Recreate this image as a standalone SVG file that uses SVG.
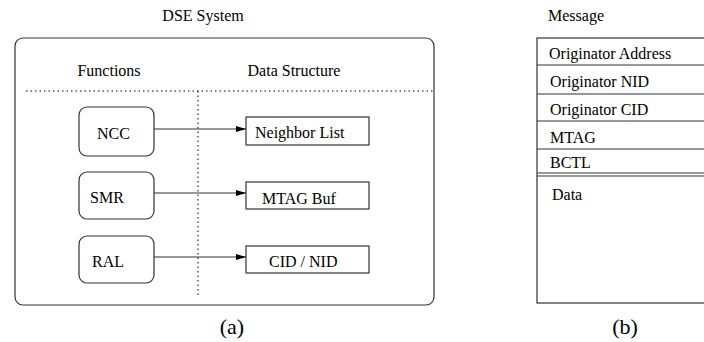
<svg xmlns="http://www.w3.org/2000/svg" width="704" height="342" viewBox="0 0 704 342">
<style>
text{font-family:"Liberation Serif","Times New Roman",serif;font-size:16px;fill:#000}
.big{font-size:22px}
.box{fill:#fff;stroke:#333;stroke-width:1.2}
.dot{stroke:#000;stroke-width:1;stroke-dasharray:1.5 3;fill:none}
.ln{stroke:#333;stroke-width:1.2;fill:none}
.arr{stroke:#333;stroke-width:1.2;fill:none;marker-end:url(#ah)}
</style>
<defs>
<marker id="ah" viewBox="0 0 10 6" refX="10" refY="3" markerWidth="10" markerHeight="6" markerUnits="userSpaceOnUse" orient="auto">
<path d="M0,0 L10,3 L0,6 Z" fill="#000"/>
</marker>
</defs>
<g id="dse-system">
<text x="203" y="21" text-anchor="middle">DSE System</text>
<rect class="box" x="15" y="38" width="419" height="267" rx="8"/>
<text x="109" y="76" text-anchor="middle">Functions</text>
<text x="294" y="76" text-anchor="middle">Data Structure</text>
<line class="dot" x1="26" y1="91" x2="433" y2="91"/>
<line class="dot" x1="198" y1="91" x2="198" y2="295"/>
<text class="big" x="232" y="334" text-anchor="middle">(a)</text>
</g>
<g id="ncc"><rect class="box" x="79" y="107" width="75" height="49" rx="8"/><text x="97" y="139">NCC</text></g>
<g id="smr"><rect class="box" x="79" y="172" width="75" height="47" rx="8"/><text x="90" y="203">SMR</text></g>
<g id="ral"><rect class="box" x="79" y="236" width="75" height="47" rx="8"/><text x="92" y="267">RAL</text></g>
<g id="neighbor-list"><rect class="box" x="246" y="117" width="123" height="28"/><text x="255" y="138">Neighbor List</text></g>
<g id="mtag-buf"><rect class="box" x="246" y="182" width="123" height="27"/><text x="262" y="204">MTAG Buf</text></g>
<g id="cid-nid"><rect class="box" x="246" y="246" width="123" height="27"/><text x="269" y="267">CID / NID</text></g>
<g id="connectors">
<line class="arr" x1="154" y1="129" x2="246" y2="129"/>
<line class="arr" x1="154" y1="193" x2="246" y2="193"/>
<line class="arr" x1="154" y1="257" x2="246" y2="257"/>
</g>
<g id="message">
<text x="548" y="21">Message</text>
<rect class="box" x="537" y="38" width="180" height="265"/>
<line class="ln" x1="537" y1="65" x2="704" y2="65"/>
<line class="ln" x1="537" y1="94" x2="704" y2="94"/>
<line class="ln" x1="537" y1="121" x2="704" y2="121"/>
<line class="ln" x1="537" y1="149" x2="704" y2="149"/>
<line class="ln" x1="537" y1="173" x2="704" y2="173"/>
<line class="ln" x1="537" y1="176" x2="704" y2="176"/>
<text x="549" y="59">Originator Address</text>
<text x="550" y="87">Originator NID</text>
<text x="550" y="115">Originator CID</text>
<text x="550" y="143">MTAG</text>
<text x="550" y="168">BCTL</text>
<text x="552" y="200">Data</text>
<text class="big" x="625" y="334" text-anchor="middle">(b)</text>
</g>
</svg>
